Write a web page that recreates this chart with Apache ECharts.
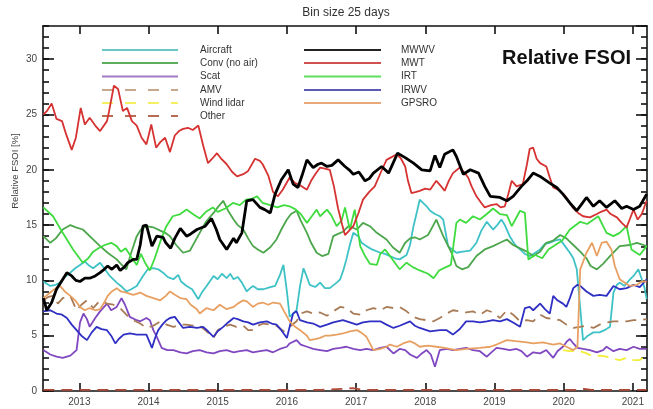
<!DOCTYPE html>
<html><head><meta charset="utf-8">
<script src="https://cdn.jsdelivr.net/npm/echarts@6/dist/echarts.min.js"></script>
<style>html,body{margin:0;padding:0;background:#fff}#c{width:653px;height:409px}</style>
</head><body><div id="c"></div>
<script>
// ---- tick labels ----
const yearTicks = [2013, 2014, 2015, 2016, 2017, 2018, 2019, 2020, 2021];
const xMin = 2012.475, xMax = 2021.205;
const yMin = 0, yMax = 33;

// ---- series values: [decimal year, relative FSOI %] ----
const aircraft = [[2012.48,9.9],[2012.58,9.5],[2012.66,9.6],[2012.72,9.8],[2012.79,10.3],[2012.87,10.7],[2012.94,11.1],[2013.01,11.4],[2013.08,11.7],[2013.13,11.4],[2013.20,11.1],[2013.30,11.6],[2013.37,11.0],[2013.44,10.4],[2013.54,9.8],[2013.60,9.5],[2013.68,9.0],[2013.75,9.2],[2013.83,9.5],[2013.92,10.4],[2013.99,11.0],[2014.07,11.1],[2014.14,11.0],[2014.21,10.7],[2014.28,10.3],[2014.36,10.1],[2014.43,10.5],[2014.47,9.9],[2014.55,9.5],[2014.63,9.2],[2014.72,8.3],[2014.77,8.9],[2014.84,9.5],[2014.94,10.4],[2015.00,10.1],[2015.06,10.6],[2015.13,10.2],[2015.18,10.6],[2015.23,10.1],[2015.29,10.3],[2015.35,9.8],[2015.42,9.0],[2015.47,9.3],[2015.51,9.5],[2015.58,9.2],[2015.66,9.2],[2015.76,9.4],[2015.83,9.5],[2015.90,10.5],[2015.95,11.4],[2016.00,9.0],[2016.04,6.7],[2016.09,7.0],[2016.14,7.3],[2016.19,9.5],[2016.24,11.1],[2016.29,10.3],[2016.33,9.6],[2016.41,9.4],[2016.48,9.8],[2016.55,9.3],[2016.62,9.3],[2016.72,9.8],[2016.77,10.1],[2016.82,11.0],[2016.86,11.9],[2016.91,13.2],[2016.96,14.3],[2017.03,14.0],[2017.08,13.4],[2017.15,13.1],[2017.23,12.8],[2017.35,12.5],[2017.42,12.4],[2017.49,12.2],[2017.56,12.0],[2017.63,11.9],[2017.73,12.3],[2017.78,13.2],[2017.83,14.9],[2017.88,16.2],[2017.92,17.3],[2018.02,16.7],[2018.07,16.3],[2018.14,16.0],[2018.21,15.8],[2018.26,15.5],[2018.33,13.1],[2018.39,12.8],[2018.45,12.5],[2018.54,12.6],[2018.65,12.7],[2018.74,13.4],[2018.81,14.5],[2018.89,15.3],[2018.94,14.9],[2018.98,14.6],[2019.04,15.0],[2019.10,15.5],[2019.15,15.0],[2019.22,14.0],[2019.30,13.2],[2019.37,12.8],[2019.44,12.4],[2019.51,12.2],[2019.59,12.5],[2019.66,12.8],[2019.73,13.3],[2019.80,13.4],[2019.87,13.6],[2019.95,13.7],[2020.02,13.1],[2020.09,12.5],[2020.14,12.0],[2020.19,11.0],[2020.24,7.5],[2020.28,4.6],[2020.35,5.0],[2020.43,5.3],[2020.52,5.3],[2020.59,5.5],[2020.67,5.8],[2020.72,8.9],[2020.77,9.6],[2020.81,9.8],[2020.88,9.5],[2020.96,10.1],[2021.01,10.4],[2021.08,11.0],[2021.13,10.1],[2021.17,9.3],[2021.20,8.3]];

const conv = [[2012.48,14.0],[2012.58,13.4],[2012.66,13.8],[2012.76,14.6],[2012.87,15.0],[2012.95,14.8],[2013.05,14.6],[2013.15,14.0],[2013.30,13.1],[2013.41,12.5],[2013.54,11.9],[2013.60,11.5],[2013.68,11.0],[2013.75,12.5],[2013.83,14.0],[2013.89,14.6],[2013.97,14.9],[2014.07,14.8],[2014.17,14.5],[2014.24,14.3],[2014.31,14.0],[2014.40,13.2],[2014.50,12.5],[2014.60,12.7],[2014.67,13.5],[2014.74,14.3],[2014.83,15.3],[2014.94,16.1],[2015.00,16.6],[2015.08,17.2],[2015.15,16.3],[2015.23,15.5],[2015.29,15.0],[2015.37,14.6],[2015.44,13.8],[2015.51,13.1],[2015.58,12.8],[2015.66,12.5],[2015.76,13.0],[2015.85,13.7],[2015.92,14.6],[2016.00,15.5],[2016.06,16.0],[2016.14,16.3],[2016.20,15.4],[2016.29,14.3],[2016.35,13.4],[2016.43,12.5],[2016.51,12.2],[2016.60,12.4],[2016.67,14.0],[2016.74,14.2],[2016.81,14.4],[2016.89,14.9],[2016.94,14.8],[2017.01,14.6],[2017.10,15.2],[2017.20,14.9],[2017.30,14.3],[2017.44,13.7],[2017.53,13.0],[2017.63,12.5],[2017.71,13.4],[2017.78,13.8],[2017.85,13.9],[2017.92,13.7],[2018.04,14.1],[2018.10,14.8],[2018.16,15.5],[2018.26,14.0],[2018.38,12.5],[2018.45,11.3],[2018.53,11.0],[2018.62,11.2],[2018.74,12.2],[2018.86,12.8],[2018.98,13.1],[2019.08,13.4],[2019.18,13.7],[2019.27,13.2],[2019.37,12.9],[2019.47,12.6],[2019.56,12.2],[2019.66,12.6],[2019.75,13.4],[2019.85,13.6],[2019.95,14.1],[2020.04,13.8],[2020.14,13.2],[2020.24,12.6],[2020.33,12.0],[2020.39,11.3],[2020.48,11.0],[2020.57,11.5],[2020.67,12.2],[2020.81,13.1],[2020.96,13.2],[2021.06,13.4],[2021.20,13.1]];

const scat = [[2012.48,3.7],[2012.58,3.3],[2012.67,3.1],[2012.76,3.0],[2012.87,3.2],[2012.96,3.7],[2013.01,6.2],[2013.06,7.0],[2013.11,6.5],[2013.15,5.8],[2013.23,6.6],[2013.30,7.2],[2013.40,7.9],[2013.46,7.3],[2013.54,7.6],[2013.61,8.4],[2013.66,7.8],[2013.73,6.7],[2013.83,6.4],[2013.88,6.3],[2013.97,6.6],[2014.02,6.4],[2014.07,5.5],[2014.12,4.9],[2014.19,3.9],[2014.27,3.7],[2014.36,3.7],[2014.46,3.5],[2014.55,3.4],[2014.64,3.6],[2014.74,3.7],[2014.84,3.5],[2014.94,3.4],[2015.03,3.6],[2015.13,3.7],[2015.23,3.5],[2015.32,3.6],[2015.42,3.7],[2015.51,3.5],[2015.61,3.6],[2015.71,3.7],[2015.80,3.5],[2015.90,3.8],[2016.00,4.0],[2016.04,4.3],[2016.14,4.6],[2016.20,4.2],[2016.29,4.0],[2016.38,3.8],[2016.48,3.7],[2016.58,3.6],[2016.67,3.8],[2016.77,3.9],[2016.86,4.0],[2016.96,3.8],[2017.06,3.7],[2017.15,3.8],[2017.25,3.7],[2017.35,3.9],[2017.44,4.0],[2017.54,3.4],[2017.63,3.8],[2017.71,3.7],[2017.78,3.3],[2017.88,3.0],[2017.95,3.4],[2018.02,3.7],[2018.08,3.3],[2018.14,2.2],[2018.21,3.7],[2018.31,3.8],[2018.40,3.7],[2018.50,3.8],[2018.59,3.9],[2018.69,3.7],[2018.79,3.6],[2018.89,3.1],[2018.94,3.4],[2019.03,3.9],[2019.13,3.8],[2019.22,3.7],[2019.32,3.8],[2019.39,3.6],[2019.47,3.1],[2019.56,3.5],[2019.66,3.4],[2019.75,3.7],[2019.85,3.0],[2019.91,3.6],[2019.99,4.0],[2020.05,4.5],[2020.09,4.7],[2020.14,4.3],[2020.20,3.9],[2020.28,3.8],[2020.38,3.7],[2020.48,3.5],[2020.57,3.7],[2020.62,4.0],[2020.72,3.6],[2020.81,3.8],[2020.91,3.7],[2021.01,4.0],[2021.10,3.8],[2021.20,3.8]];

const amv = [[2012.48,8.2],[2012.55,8.5],[2012.62,8.6],[2012.69,7.9],[2012.76,8.4],[2012.87,8.6],[2012.96,7.3],[2013.03,7.8],[2013.11,8.2],[2013.20,7.5],[2013.30,8.2],[2013.40,7.9],[2013.49,7.8],[2013.59,7.5],[2013.68,6.9],[2013.78,6.4],[2013.88,6.1],[2013.97,5.7],[2014.07,5.9],[2014.17,6.3],[2014.26,6.0],[2014.36,5.8],[2014.46,6.0],[2014.55,6.0],[2014.64,5.9],[2014.74,5.9],[2014.84,5.4],[2014.94,4.8],[2015.00,5.5],[2015.08,5.8],[2015.18,6.0],[2015.27,5.8],[2015.37,5.9],[2015.44,5.5],[2015.51,5.5],[2015.58,5.9],[2015.66,6.1],[2015.76,6.0],[2015.85,5.9],[2015.95,5.4],[2016.04,5.8],[2016.14,6.3],[2016.20,7.0],[2016.29,7.2],[2016.38,7.0],[2016.48,7.1],[2016.58,6.8],[2016.67,7.2],[2016.77,7.6],[2016.86,7.5],[2016.96,7.0],[2017.06,6.9],[2017.15,7.3],[2017.25,7.5],[2017.35,7.3],[2017.44,7.6],[2017.54,7.5],[2017.63,7.6],[2017.73,7.2],[2017.83,6.7],[2017.92,6.5],[2018.02,6.4],[2018.12,6.3],[2018.21,6.6],[2018.31,7.0],[2018.40,7.3],[2018.50,7.2],[2018.59,7.1],[2018.69,7.2],[2018.79,6.9],[2018.89,7.3],[2018.98,7.1],[2019.08,6.6],[2019.18,7.3],[2019.27,6.9],[2019.37,6.3],[2019.47,6.4],[2019.56,6.3],[2019.66,6.9],[2019.75,6.6],[2019.85,6.5],[2019.95,6.4],[2020.04,6.0],[2020.14,5.7],[2020.24,5.8],[2020.33,5.9],[2020.43,5.7],[2020.52,6.0],[2020.62,6.2],[2020.72,6.3],[2020.81,6.3],[2020.91,6.3],[2021.01,6.4],[2021.10,6.4],[2021.20,6.5]];

const windLidar = [[2019.99,3.7],[2020.09,3.6],[2020.24,3.6],[2020.33,3.4],[2020.43,3.1],[2020.52,3.2],[2020.62,3.1],[2020.72,2.9],[2020.81,2.8],[2020.91,3.0],[2021.01,2.8],[2021.10,2.8],[2021.20,3.3]];

const other = [[2012.48,0.1],[2013.5,0.1],[2014.5,0.1],[2015.5,0.1],[2016.5,0.1],[2016.95,0.25],[2017.1,0.1],[2018.5,0.1],[2019.5,0.1],[2020.2,0.1],[2020.3,0.2],[2020.4,0.1],[2021.2,0.1]];

const mwwv = [[2012.48,8.4],[2012.53,7.3],[2012.60,8.0],[2012.67,9.2],[2012.75,10.0],[2012.82,10.7],[2012.89,10.4],[2012.95,10.0],[2013.01,9.9],[2013.08,10.2],[2013.15,10.2],[2013.23,10.4],[2013.30,10.7],[2013.36,11.0],[2013.41,11.3],[2013.47,11.0],[2013.54,11.4],[2013.59,10.9],[2013.65,11.2],[2013.70,11.6],[2013.78,11.9],[2013.83,11.9],[2013.88,13.2],[2013.92,14.9],[2013.97,15.0],[2014.05,13.1],[2014.12,14.0],[2014.21,13.9],[2014.25,13.4],[2014.32,12.9],[2014.38,13.8],[2014.46,14.7],[2014.55,14.0],[2014.61,14.2],[2014.70,14.6],[2014.82,14.9],[2014.91,15.6],[2014.98,14.6],[2015.03,13.7],[2015.13,12.8],[2015.23,13.8],[2015.27,13.4],[2015.35,14.3],[2015.42,17.2],[2015.51,17.3],[2015.61,16.6],[2015.68,16.4],[2015.76,16.1],[2015.83,17.8],[2015.92,19.1],[2016.02,20.0],[2016.09,18.7],[2016.16,18.4],[2016.22,19.5],[2016.29,20.9],[2016.38,20.2],[2016.45,20.5],[2016.50,20.6],[2016.58,20.3],[2016.65,20.4],[2016.74,20.9],[2016.84,20.3],[2016.90,20.0],[2016.96,19.6],[2017.04,19.8],[2017.13,19.0],[2017.19,19.2],[2017.25,19.7],[2017.37,20.3],[2017.47,19.7],[2017.60,21.5],[2017.71,21.1],[2017.83,20.6],[2017.95,20.0],[2018.07,19.9],[2018.14,21.3],[2018.21,20.2],[2018.28,21.4],[2018.40,21.8],[2018.45,21.2],[2018.55,19.6],[2018.65,20.0],[2018.77,19.7],[2018.86,18.5],[2018.94,17.6],[2019.08,17.5],[2019.18,17.2],[2019.27,17.6],[2019.39,18.5],[2019.47,19.0],[2019.56,19.7],[2019.66,19.4],[2019.80,18.8],[2019.90,18.4],[2019.99,17.8],[2020.09,17.0],[2020.19,16.3],[2020.25,16.8],[2020.33,17.5],[2020.43,16.7],[2020.52,17.2],[2020.62,16.6],[2020.74,17.2],[2020.84,16.5],[2020.91,16.7],[2021.01,16.4],[2021.10,16.7],[2021.20,17.8]];

const mwt = [[2012.48,25.0],[2012.53,25.3],[2012.60,26.0],[2012.67,24.6],[2012.75,24.4],[2012.81,23.2],[2012.89,21.8],[2012.95,22.9],[2013.02,25.6],[2013.08,24.1],[2013.15,24.7],[2013.23,24.0],[2013.30,23.5],[2013.40,24.4],[2013.43,25.3],[2013.50,27.6],[2013.56,27.3],[2013.63,25.3],[2013.69,25.6],[2013.76,24.4],[2013.83,24.0],[2013.90,22.9],[2013.97,22.3],[2014.04,24.1],[2014.11,22.0],[2014.17,22.5],[2014.24,22.9],[2014.31,21.6],[2014.38,23.1],[2014.44,23.5],[2014.50,23.7],[2014.57,23.8],[2014.64,23.6],[2014.72,24.0],[2014.79,22.2],[2014.86,20.6],[2014.92,21.0],[2014.99,21.5],[2015.05,21.0],[2015.13,20.5],[2015.21,19.8],[2015.28,19.4],[2015.37,19.6],[2015.44,19.9],[2015.54,21.0],[2015.61,20.8],[2015.65,20.5],[2015.73,19.5],[2015.80,18.0],[2015.87,17.6],[2015.94,18.2],[2016.04,19.3],[2016.12,18.8],[2016.19,18.6],[2016.29,18.2],[2016.35,19.0],[2016.41,19.6],[2016.48,20.2],[2016.55,20.1],[2016.62,20.0],[2016.68,18.5],[2016.74,16.5],[2016.80,15.0],[2016.84,14.1],[2016.90,14.5],[2016.96,14.9],[2017.03,16.0],[2017.10,17.3],[2017.19,18.0],[2017.27,18.5],[2017.36,19.8],[2017.44,20.9],[2017.50,21.1],[2017.59,21.4],[2017.65,21.0],[2017.71,20.3],[2017.75,19.0],[2017.80,17.9],[2017.87,18.0],[2017.92,18.1],[2018.00,18.3],[2018.07,18.2],[2018.16,19.0],[2018.23,18.5],[2018.28,18.1],[2018.34,19.0],[2018.40,19.7],[2018.50,20.2],[2018.56,19.8],[2018.62,19.3],[2018.67,18.5],[2018.74,17.6],[2018.81,17.0],[2018.86,16.6],[2018.95,16.8],[2019.03,16.9],[2019.09,16.6],[2019.15,16.7],[2019.20,17.8],[2019.25,19.0],[2019.32,18.5],[2019.41,18.7],[2019.47,20.5],[2019.51,21.9],[2019.56,22.0],[2019.61,21.0],[2019.66,20.6],[2019.75,20.3],[2019.80,19.3],[2019.85,18.4],[2019.95,18.1],[2020.04,17.5],[2020.13,16.6],[2020.21,16.1],[2020.28,15.8],[2020.38,15.7],[2020.48,16.0],[2020.54,16.2],[2020.62,16.4],[2020.68,16.0],[2020.77,15.7],[2020.84,15.2],[2020.91,14.8],[2020.96,15.6],[2021.01,16.4],[2021.07,15.5],[2021.13,16.0],[2021.20,17.2]];

const irt = [[2012.48,16.6],[2012.62,15.8],[2012.76,14.3],[2012.91,12.8],[2013.05,11.6],[2013.13,12.0],[2013.20,12.6],[2013.30,13.0],[2013.37,13.2],[2013.46,13.4],[2013.54,13.1],[2013.60,12.6],[2013.67,12.9],[2013.76,12.0],[2013.83,11.4],[2013.89,12.4],[2013.95,11.6],[2014.02,10.9],[2014.09,12.0],[2014.17,13.5],[2014.25,14.8],[2014.35,15.8],[2014.46,16.0],[2014.55,16.4],[2014.64,16.0],[2014.74,15.6],[2014.83,16.2],[2014.93,16.6],[2015.00,16.2],[2015.11,16.5],[2015.22,17.0],[2015.32,16.8],[2015.41,17.3],[2015.50,17.4],[2015.57,17.6],[2015.65,17.0],[2015.76,16.8],[2015.86,16.6],[2015.96,16.8],[2016.04,16.7],[2016.13,16.4],[2016.20,16.0],[2016.29,15.2],[2016.36,15.8],[2016.43,16.4],[2016.48,15.8],[2016.58,16.4],[2016.64,15.9],[2016.72,14.9],[2016.79,15.4],[2016.84,16.6],[2016.91,14.6],[2016.98,16.4],[2017.06,13.1],[2017.13,12.2],[2017.20,11.5],[2017.30,11.4],[2017.35,12.4],[2017.42,12.8],[2017.49,12.2],[2017.56,11.6],[2017.63,11.0],[2017.73,11.6],[2017.82,11.2],[2017.92,10.9],[2018.04,10.6],[2018.12,10.2],[2018.20,10.9],[2018.30,11.2],[2018.37,11.4],[2018.45,15.2],[2018.50,15.5],[2018.59,15.2],[2018.69,15.8],[2018.79,15.5],[2018.89,16.0],[2018.98,16.5],[2019.08,16.0],[2019.18,15.9],[2019.25,14.9],[2019.31,15.6],[2019.37,16.3],[2019.44,16.1],[2019.49,11.9],[2019.59,12.3],[2019.69,12.0],[2019.78,12.8],[2019.88,13.2],[2019.98,13.6],[2020.09,14.6],[2020.24,15.3],[2020.34,15.1],[2020.50,15.8],[2020.62,14.3],[2020.72,14.0],[2020.81,14.3],[2020.91,14.9],[2020.98,12.8],[2021.10,12.3],[2021.20,13.1]];

const irwv = [[2012.48,7.2],[2012.58,7.3],[2012.67,7.0],[2012.75,6.9],[2012.82,6.6],[2012.89,6.0],[2012.96,5.5],[2013.03,5.0],[2013.11,4.6],[2013.18,5.3],[2013.25,5.8],[2013.32,5.6],[2013.40,5.5],[2013.46,5.0],[2013.52,4.3],[2013.57,4.7],[2013.64,5.1],[2013.73,5.2],[2013.83,5.1],[2013.90,5.1],[2013.97,5.1],[2014.05,3.9],[2014.09,4.7],[2014.14,5.5],[2014.20,6.0],[2014.26,6.4],[2014.31,6.6],[2014.38,6.7],[2014.44,6.2],[2014.50,5.7],[2014.60,5.8],[2014.70,5.7],[2014.79,5.8],[2014.86,5.4],[2014.94,4.9],[2015.00,5.4],[2015.08,5.8],[2015.15,6.2],[2015.23,6.6],[2015.29,6.5],[2015.37,6.3],[2015.44,6.2],[2015.51,6.0],[2015.61,6.2],[2015.71,6.3],[2015.78,6.1],[2015.85,6.0],[2015.92,5.5],[2016.00,4.8],[2016.04,5.8],[2016.09,7.0],[2016.14,7.2],[2016.19,6.4],[2016.29,6.2],[2016.38,6.1],[2016.48,5.8],[2016.58,6.0],[2016.67,6.2],[2016.81,6.4],[2016.91,6.2],[2017.01,6.0],[2017.10,6.2],[2017.20,6.3],[2017.35,6.3],[2017.44,6.0],[2017.54,5.7],[2017.63,5.9],[2017.78,6.3],[2017.85,5.9],[2017.92,5.7],[2018.07,5.4],[2018.21,5.5],[2018.31,5.5],[2018.40,5.1],[2018.50,5.6],[2018.59,6.3],[2018.69,6.3],[2018.79,6.2],[2018.89,6.3],[2018.98,6.4],[2019.08,6.3],[2019.18,6.5],[2019.27,6.2],[2019.37,5.8],[2019.44,7.5],[2019.51,7.6],[2019.56,7.3],[2019.66,7.9],[2019.73,7.4],[2019.80,7.0],[2019.85,8.6],[2019.91,8.2],[2019.99,7.9],[2020.04,7.6],[2020.09,8.4],[2020.14,9.3],[2020.20,9.6],[2020.24,9.5],[2020.33,9.0],[2020.43,8.6],[2020.52,8.7],[2020.62,8.6],[2020.72,9.5],[2020.81,9.2],[2020.91,9.3],[2021.01,9.6],[2021.10,9.4],[2021.20,10.1]];

const gpsro = [[2012.48,8.4],[2012.58,8.9],[2012.66,9.3],[2012.72,9.5],[2012.79,9.0],[2012.87,8.6],[2012.94,8.2],[2013.01,7.6],[2013.08,7.3],[2013.15,7.5],[2013.23,7.3],[2013.30,7.4],[2013.36,8.0],[2013.41,8.6],[2013.47,9.0],[2013.54,9.3],[2013.60,9.0],[2013.68,8.9],[2013.78,8.7],[2013.88,8.9],[2013.97,8.6],[2014.07,8.4],[2014.17,8.2],[2014.25,8.6],[2014.31,9.0],[2014.38,8.7],[2014.46,8.4],[2014.55,8.3],[2014.61,7.8],[2014.70,7.4],[2014.74,7.0],[2014.84,7.5],[2014.94,7.3],[2015.03,7.8],[2015.13,7.4],[2015.23,7.6],[2015.29,7.9],[2015.37,8.2],[2015.42,8.1],[2015.51,7.6],[2015.58,7.9],[2015.65,8.0],[2015.73,7.8],[2015.80,8.0],[2015.90,7.9],[2015.96,7.2],[2016.04,6.3],[2016.12,5.8],[2016.19,5.5],[2016.29,5.0],[2016.33,4.6],[2016.41,4.7],[2016.48,4.8],[2016.55,5.0],[2016.62,5.0],[2016.72,5.1],[2016.81,5.2],[2016.91,5.4],[2017.01,5.5],[2017.07,5.3],[2017.15,4.9],[2017.20,4.3],[2017.25,3.7],[2017.35,3.8],[2017.44,4.0],[2017.49,4.2],[2017.59,4.0],[2017.68,4.3],[2017.78,4.5],[2017.85,4.3],[2017.92,4.0],[2018.04,4.1],[2018.16,4.0],[2018.28,3.9],[2018.45,3.7],[2018.59,3.8],[2018.79,3.9],[2018.94,4.0],[2019.03,4.2],[2019.18,4.6],[2019.31,4.5],[2019.47,4.4],[2019.56,4.3],[2019.70,4.4],[2019.85,4.2],[2019.95,4.3],[2020.04,4.0],[2020.14,3.7],[2020.20,4.0],[2020.24,11.0],[2020.33,12.5],[2020.41,13.4],[2020.48,12.2],[2020.55,13.4],[2020.62,13.5],[2020.69,12.8],[2020.74,11.3],[2020.81,10.1],[2020.88,9.8],[2020.96,9.5],[2021.06,9.6],[2021.13,9.9],[2021.20,9.9]];

// ---- series names / colours ----
const leftNames  = ['Aircraft', 'Conv (no air)', 'Scat', 'AMV', 'Wind lidar', 'Other'];
const rightNames = ['MWWV', 'MWT', 'IRT', 'IRWV', 'GPSRO'];
const seriesData = {
  'Aircraft': aircraft, 'Conv (no air)': conv, 'Scat': scat, 'AMV': amv,
  'Wind lidar': windLidar, 'Other': other, 'MWWV': mwwv, 'MWT': mwt,
  'IRT': irt, 'IRWV': irwv, 'GPSRO': gpsro
};
const seriesColor = {
  'Aircraft': '#3ec2c6', 'Conv (no air)': '#4ca64c', 'Scat': '#8048c0', 'AMV': '#a87b56',
  'Wind lidar': '#f2ee3a', 'Other': '#b04a38', 'MWWV': '#000000', 'MWT': '#d63232',
  'IRT': '#3edc3e', 'IRWV': '#2f2fc4', 'GPSRO': '#e8a062'
};
const legendColor = {
  'Aircraft': '#6cc6c2', 'Conv (no air)': '#5cae5c', 'Scat': '#a47ac4', 'AMV': '#c8a88c',
  'Wind lidar': '#f4f060', 'Other': '#b86a52', 'MWWV': '#222222', 'MWT': '#d05050',
  'IRT': '#5ee05e', 'IRWV': '#5a5ab8', 'GPSRO': '#e8a878'
};
const dashedNames = ['AMV', 'Wind lidar', 'Other'];

const FONT = '"Liberation Sans", Arial, Helvetica, sans-serif';
const chart = echarts.init(document.getElementById('c'), null, {renderer: 'canvas'});

const drawOrder = ['Aircraft', 'Conv (no air)', 'Scat', 'AMV', 'Wind lidar', 'Other', 'IRT', 'IRWV', 'GPSRO', 'MWT', 'MWWV'];
const series = drawOrder.map(n => ({
  name: n, type: 'line', data: seriesData[n], symbol: 'none', smooth: false,
  xAxisIndex: 0, yAxisIndex: 0, animation: false,
  lineStyle: {
    color: seriesColor[n],
    width: n === 'MWWV' ? 2.8 : 1.8,
    type: dashedNames.includes(n) ? [11, 7] : 'solid'
  },
  z: n === 'MWWV' ? 4 : 3
}));

// legend drawn as graphic (two columns)
const rowY = [50, 63, 76.5, 90, 103, 116];
const graphics = [];
function addLegend(names, x1, x2, tx) {
  names.forEach((n, i) => {
    graphics.push({
      type: 'line', silent: true,
      shape: {x1: x1, y1: rowY[i], x2: x2, y2: rowY[i]},
      style: {stroke: legendColor[n], lineWidth: 2.2, lineDash: dashedNames.includes(n) ? [11, 12] : null}
    });
    graphics.push({
      type: 'text', silent: true, x: tx, y: rowY[i],
      style: {text: n, fill: '#333', font: '10px ' + FONT, textAlign: 'left', textVerticalAlign: 'middle'}
    });
  });
}
addLegend(leftNames, 102, 178, 200);
addLegend(rightNames, 304, 381, 401);
graphics.push({
  type: 'text', silent: true, x: 631, y: 58,
  style: {text: 'Relative FSOI', fill: '#111', font: 'bold 20px ' + FONT, textAlign: 'right', textVerticalAlign: 'middle'}
});
graphics.push({
  type: 'text', silent: true, x: 346, y: 13,
  style: {text: 'Bin size 25 days', fill: '#333', font: '12px ' + FONT, textAlign: 'center', textVerticalAlign: 'middle'}
});
graphics.push({
  type: 'text', silent: true, x: 15, y: 171, rotation: Math.PI / 2,
  style: {text: 'Relative FSOI [%]', fill: '#444', font: '9.5px ' + FONT, textAlign: 'center', textVerticalAlign: 'middle'}
});

const axisCol = '#111';
function xAx(pos, labels) {
  return {
    type: 'value', min: xMin, max: xMax, position: pos,
    axisLine: {show: true, onZero: false, lineStyle: {color: axisCol, width: 1.6}},
    axisTick: {show: true, inside: true, length: 8, customValues: yearTicks, lineStyle: {color: axisCol, width: 1.6}},
    axisLabel: {show: labels, customValues: yearTicks, formatter: v => String(Math.round(v)),
      color: '#444', fontSize: 10, fontFamily: FONT, margin: 6},
    splitLine: {show: false}
  };
}
function yAx(pos, interval, len, labels, line) {
  return {
    type: 'value', min: yMin, max: yMax, interval: interval, position: pos,
    axisLine: {show: line, onZero: false, lineStyle: {color: axisCol, width: 1.6}},
    axisTick: {show: true, inside: true, length: len, lineStyle: {color: axisCol, width: 1.6}},
    axisLabel: {show: labels, color: '#444', fontSize: 10, fontFamily: FONT, margin: 6, showMaxLabel: false},
    splitLine: {show: false}
  };
}

chart.setOption({
  animation: false,
  backgroundColor: '#fff',
  grid: {left: 43, right: 6, top: 26, bottom: 18, containLabel: false},
  xAxis: [xAx('bottom', true), xAx('top', false)],
  yAxis: [yAx('left', 5, 11, true, true), yAx('left', 1, 6, false, false),
          yAx('right', 5, 11, false, true), yAx('right', 1, 6, false, false)],
  series: series,
  graphic: graphics
});
</script>
</body></html>
